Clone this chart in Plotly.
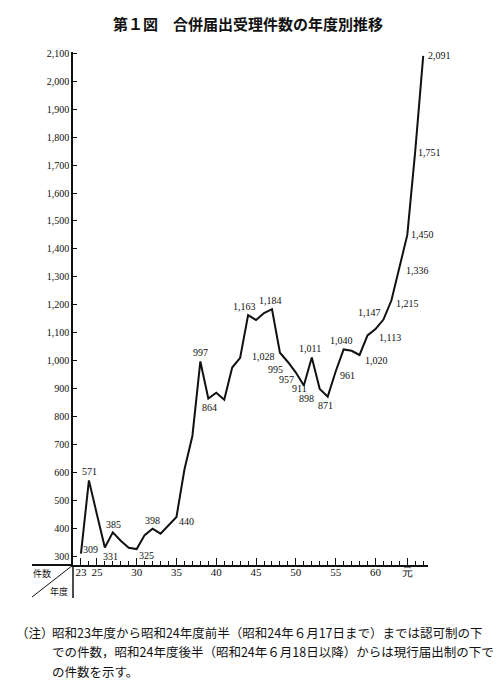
import plotly.graph_objects as go

# ---- data ----
years = list(range(23, 67))  # 昭和23年度 ... 平成3年度 (Showa-year numbering)
values = [309, 571, 450, 331, 385, 355, 330, 325, 375, 398, 380, 410, 440, 610,
          730, 997, 864, 885, 860, 975, 1010, 1163, 1145, 1170, 1184, 1028, 995,
          957, 911, 1011, 898, 871, 961, 1040, 1035, 1020, 1090, 1113, 1147,
          1215, 1336, 1450, 1751, 2091]
labeled_years = [23, 24, 26, 27, 30, 32, 35, 38, 39, 44, 47, 48, 49, 50, 51, 52,
                 53, 54, 55, 56, 58, 60, 61, 62, 63, 64, 65, 66]
x_tick_years = [23, 25, 30, 35, 40, 45, 50, 55, 60, 64]
x_tick_labels = ["23", "25", "30", "35", "40", "45", "50", "55", "60", "元"]
y_tick_values = list(range(300, 2101, 100))
y_tick_labels = [f"{v:,}" for v in y_tick_values]

title = "第１図　合併届出受理件数の年度別推移"
note_head = "（注）"
note_lines = [
    "昭和23年度から昭和24年度前半（昭和24年６月17日まで）までは認可制の下",
    "での件数，昭和24年度後半（昭和24年６月18日以降）からは現行届出制の下で",
    "の件数を示す。",
]

# ---- style: label offsets in pixels (dx, dy up) ----
label_offsets = {
    23: (10, 4), 24: (1, 9), 26: (6, -9), 27: (1, 8), 30: (10, -6), 32: (0, 8),
    35: (10, -5), 38: (0, 9), 39: (1, -9), 44: (-4, 9), 47: (-1, 9),
    48: (-16, -4), 49: (-12, -8), 50: (-9, -7), 51: (-4, -3), 52: (-2, 9),
    53: (-13, -9), 54: (-2, -9), 55: (12, -4), 56: (-2, 9), 58: (17, -5),
    60: (15, -8), 61: (-14, 7), 62: (16, -3), 63: (18, -4), 64: (15, 0),
    65: (14, -2), 66: (16, 0),
}

W, H = 500, 685
ML, MR, MT, MB = 73, 72, 52, 120
PW, PH = W - ML - MR, H - MT - MB
XR = [22.0, 66.6]
YR = [268, 2105]


def px(xp):
    return (xp - ML) / PW


def py(yp):
    return (H - MB - yp) / PH


SERIF = "Liberation Serif, DejaVu Serif, serif"
JP = "Noto Sans CJK JP, sans-serif"

fig = go.Figure()
fig.add_trace(go.Scatter(x=years, y=values, mode="lines",
                         line=dict(color="#111", width=2), hoverinfo="skip"))

val_by_year = dict(zip(years, values))
for yr in labeled_years:
    dx, dy = label_offsets[yr]
    fig.add_annotation(x=yr, y=val_by_year[yr], text=f"{val_by_year[yr]:,}",
                       showarrow=False, xshift=dx, yshift=dy,
                       xanchor="center", yanchor="middle",
                       font=dict(family=SERIF, size=10, color="#111"))

# extra frame lines of the 件数/年度 header cell
fig.add_shape(type="line", xref="paper", yref="paper", x0=px(32), x1=0, y0=0, y1=0,
              line=dict(color="#111", width=2))
fig.add_shape(type="line", xref="paper", yref="paper", x0=0, x1=0, y0=0, y1=py(598),
              line=dict(color="#111", width=1.5))
fig.add_shape(type="line", xref="paper", yref="paper", x0=px(32), x1=0, y0=py(597), y1=0,
              line=dict(color="#111", width=1))
fig.add_annotation(xref="paper", yref="paper", x=px(41.5), y=py(573.5), text="件数", showarrow=False,
                   xanchor="center", yanchor="middle",
                   font=dict(family=JP, size=9, color="#111"))
fig.add_annotation(xref="paper", yref="paper", x=px(59), y=py(591), text="年度", showarrow=False,
                   xanchor="center", yanchor="middle",
                   font=dict(family=JP, size=9, color="#111"))

# note
fig.add_annotation(xref="paper", yref="paper", x=px(14), y=py(632), xanchor="left", yanchor="middle",
                   text=note_head, showarrow=False, font=dict(family=JP, size=12.5, color="#111"))
for i, line in enumerate(note_lines):
    fig.add_annotation(xref="paper", yref="paper", x=px(50), y=py(632 + 19.5 * i),
                       xanchor="left", yanchor="middle",
                       text=line, showarrow=False, font=dict(family=JP, size=12.5, color="#111"))

fig.update_layout(
    width=W, height=H, margin=dict(l=ML, r=MR, t=MT, b=MB),
    paper_bgcolor="white", plot_bgcolor="white", showlegend=False,
    title=dict(text=f"<b>{title}</b>", x=px(248), xref="paper", xanchor="center",
               y=1 - 25 / H, yanchor="middle",
               font=dict(family=JP, size=15, color="#111")),
    xaxis=dict(range=XR, tickmode="array", tickvals=x_tick_years, ticktext=x_tick_labels,
               ticks="inside", ticklen=7, tickwidth=1.2, tickcolor="#111",
               minor=dict(tickmode="array", tickvals=years, ticks="inside", ticklen=4,
                          tickcolor="#111", tickwidth=1, showgrid=False),
               showline=True, linecolor="#111", linewidth=2, showgrid=False, zeroline=False,
               ticklabelstandoff=-4,
               tickfont=dict(family=SERIF, size=11, color="#111")),
    yaxis=dict(range=YR, tickmode="array", tickvals=y_tick_values, ticktext=y_tick_labels,
               ticks="inside", ticklen=4, tickcolor="#111", showline=True, linecolor="#111",
               linewidth=1.5, showgrid=False, zeroline=False,
               tickfont=dict(family=SERIF, size=10, color="#111")),
)

fig.write_html("out.html", config={"displayModeBar": False},
               post_script="document.body.style.margin='0';")
